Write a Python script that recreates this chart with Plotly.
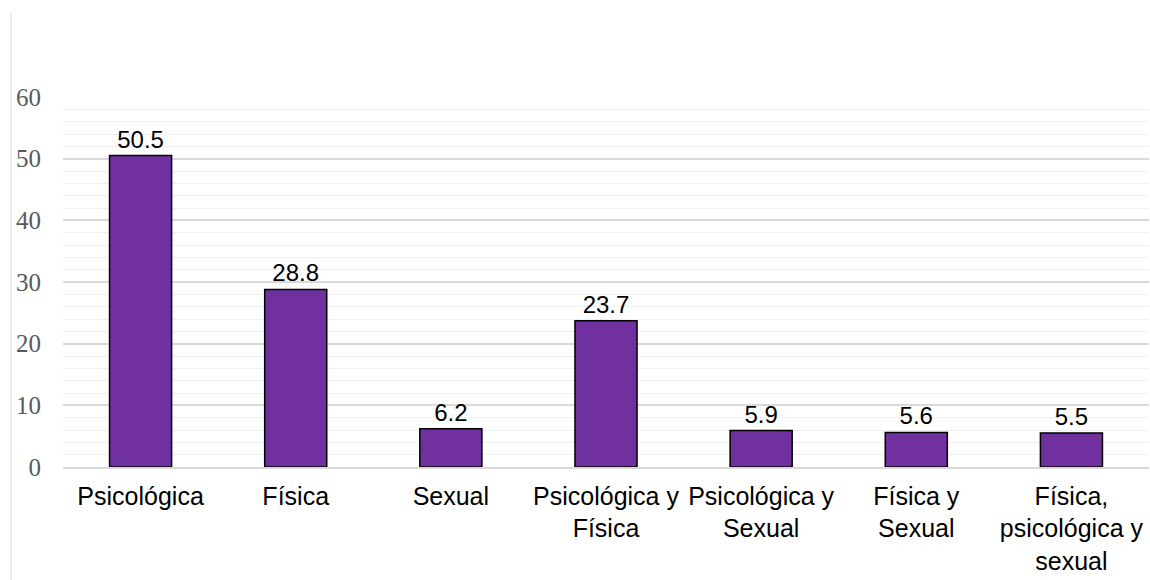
import plotly.graph_objects as go

categories = ["Psicológica", "Física", "Sexual", "Psicológica y<br>Física",
              "Psicológica y<br>Sexual", "Física y<br>Sexual",
              "Física,<br>psicológica y<br>sexual"]
values = [50.5, 28.8, 6.2, 23.7, 5.9, 5.6, 5.5]
y_ticks = [0, 10, 20, 30, 40, 50, 60]

PW = 1150 - 63 - 1
PH = 580 - 97 - 113

fig = go.Figure(go.Bar(
    x=categories, y=values,
    marker=dict(color="#7030A0", line=dict(color="#000000", width=1.5)),
    text=[f"{v:.1f}" for v in values],
    textposition="outside",
    textfont=dict(family="Liberation Sans, Arial, sans-serif", size=24, color="#000000"),
    cliponaxis=False,
))

fig.update_layout(
    width=1150, height=580,
    margin=dict(l=63, r=1, t=97, b=113),
    paper_bgcolor="white", plot_bgcolor="white",
    bargap=0.6,
    showlegend=False,
    shapes=[dict(type="line", xref="paper", yref="paper",
                 x0=(11 - 63) / PW, x1=(11 - 63) / PW,
                 y0=-113 / PH, y1=1 + 84 / PH,
                 line=dict(color="#d9d9d9", width=1))],
)
fig.update_xaxes(
    tickfont=dict(family="Liberation Sans, Arial, sans-serif", size=25, color="#000000"),
    showgrid=False, showline=True, linecolor="#d9d9d9", linewidth=1.5,
    ticks="", ticklen=0, ticklabelstandoff=6,
)
fig.update_yaxes(
    range=[0, 60], tickvals=y_ticks,
    tickfont=dict(family="Liberation Serif, Cambria, serif", size=25, color="#595959"),
    showgrid=True, gridcolor="#d9d9d9", gridwidth=1.5,
    minor=dict(dtick=2, showgrid=True, gridcolor="#efefef", gridwidth=1),
    zeroline=False, showline=False, ticks="", ticklabelstandoff=21,
)

fig.write_html("out.html")
